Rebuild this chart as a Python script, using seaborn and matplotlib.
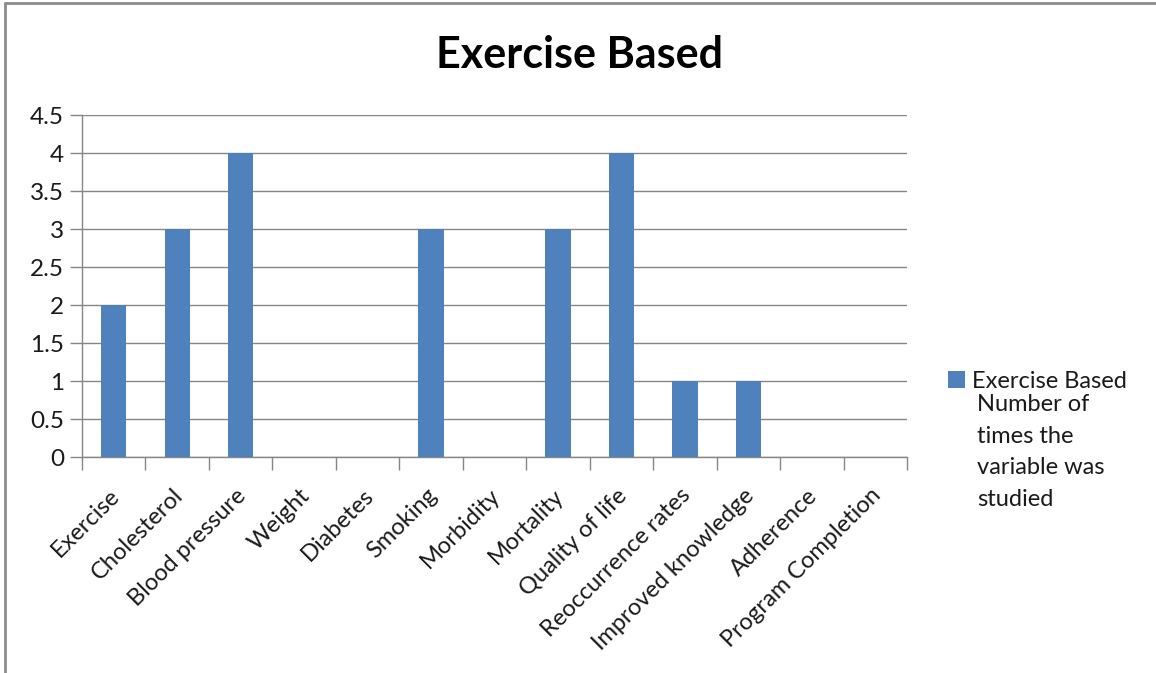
import matplotlib
matplotlib.use("Agg")
import matplotlib.pyplot as plt
import matplotlib.transforms as mtransforms
from matplotlib.patches import Patch
from matplotlib.lines import Line2D
import seaborn as sns
import pandas as pd

categories = ["Exercise", "Cholesterol", "Blood pressure", "Weight", "Diabetes",
              "Smoking", "Morbidity", "Mortality", "Quality of life",
              "Reoccurrence rates", "Improved knowledge", "Adherence",
              "Program Completion"]
counts = [2, 3, 4, 0, 0, 3, 0, 3, 4, 1, 1, 0, 0]
y_ticks = [0, 0.5, 1, 1.5, 2, 2.5, 3, 3.5, 4, 4.5]
y_tick_labels = ["0", "0.5", "1", "1.5", "2", "2.5", "3", "3.5", "4", "4.5"]
series_name = "Exercise Based"
title = "Exercise Based"
note = "Number of\ntimes the\nvariable was\nstudied"

sns.set_style("white")
plt.rcParams["font.family"] = ["Lato", "DejaVu Sans"]

bar_color = "#4F81BD"
grid_color = "#868686"
text_color = "#1a1a1a"

df = pd.DataFrame({"category": categories, "count": counts})

fig = plt.figure(figsize=(11.56, 6.73), dpi=100)
ax = fig.add_axes([82 / 1156, 1 - 457 / 673, (907 - 82) / 1156, (457 - 115) / 673])

sns.barplot(data=df, x="category", y="count", color=bar_color, width=0.4,
            saturation=1, linewidth=0, ax=ax, zorder=3)

ax.set_xlim(-0.5, len(categories) - 0.5)
ax.set_ylim(0, 4.5)
ax.set_yticks(y_ticks)
ax.set_yticklabels(y_tick_labels, fontsize=17.5, color=text_color)
ax.yaxis.grid(True, color=grid_color, linewidth=1, zorder=0)
ax.set_xlabel("")
ax.set_ylabel("")

for side in ["top", "right"]:
    ax.spines[side].set_visible(False)
for side in ["left", "bottom"]:
    ax.spines[side].set_color(grid_color)
    ax.spines[side].set_linewidth(1)

ax.tick_params(axis="y", direction="out", length=9, width=1, color=grid_color, pad=4, left=True)

# Category labels at centres, tick marks at category boundaries
ax.set_xticks(range(len(categories)))
ax.set_xticklabels(categories, rotation=45, ha="right", rotation_mode="anchor",
                   fontsize=17, color=text_color)
ax.tick_params(axis="x", which="major", length=0, pad=20)
shift = mtransforms.ScaledTranslation(-5 / 100, 0, fig.dpi_scale_trans)
for lbl in ax.get_xticklabels():
    lbl.set_transform(lbl.get_transform() + shift)
ax.set_xticks([i - 0.5 for i in range(len(categories) + 1)], minor=True)
ax.tick_params(axis="x", which="minor", direction="out", length=9, width=1,
               color=grid_color, bottom=True)

fig.text(580 / 1156, 1 - 55 / 673, title, ha="center", va="center",
         fontsize=31, fontweight="bold", color="black")

handle = Patch(facecolor=bar_color, edgecolor="none")
fig.legend([handle], [series_name], loc="center left",
           bbox_to_anchor=(948 / 1156, 1 - 381 / 673), frameon=False,
           fontsize=17, handlelength=0.7, handleheight=0.7, handletextpad=0.3,
           borderaxespad=0, borderpad=0, labelcolor=text_color)
fig.text(977 / 1156, 1 - 394 / 673, note, ha="left", va="top",
         fontsize=17, color=text_color, linespacing=1.63)

# Outer chart frame
fig.add_artist(Line2D([5 / 1156, 5 / 1156], [0, 1 - 3 / 673], transform=fig.transFigure,
                      color="#8c8c8c", linewidth=2))
fig.add_artist(Line2D([5 / 1156, 1], [1 - 3 / 673, 1 - 3 / 673], transform=fig.transFigure,
                      color="#8c8c8c", linewidth=2))

fig.savefig("out.png", dpi=100)
